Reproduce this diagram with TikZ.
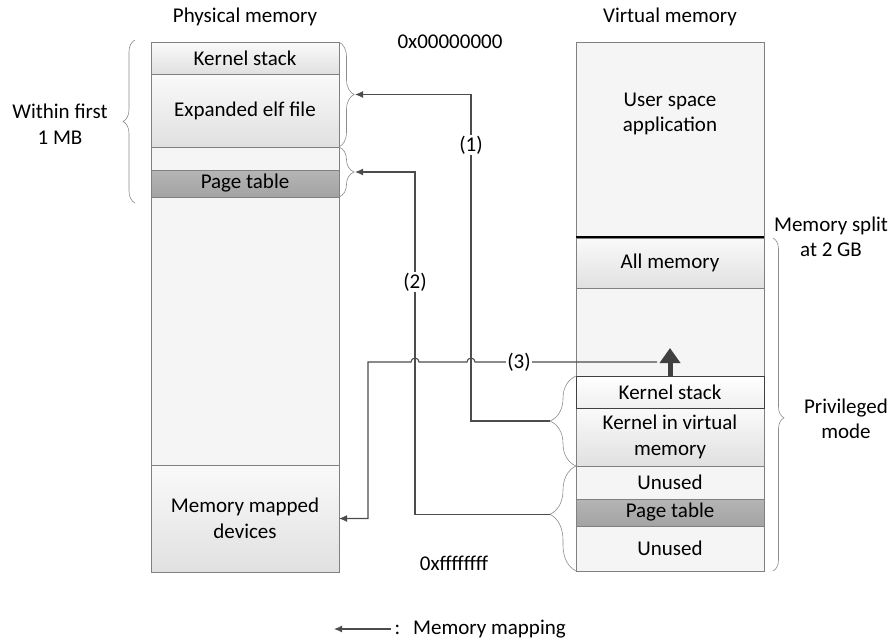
\documentclass[tikz,border=0pt]{standalone}
\usepackage{fontspec}
\setmainfont{Carlito}
\usetikzlibrary{calc}
\usetikzlibrary{arrows.meta}
\usetikzlibrary{decorations.pathreplacing}

\tikzset{
  mem/.style={draw=black!50, line width=0.8pt, minimum width=188pt, inner sep=0pt, outer sep=0pt, align=center},
  plain/.style={mem, fill=black!4},
  shaded/.style={mem, top color=black!2, bottom color=black!12},
  darkbox/.style={mem, top color=black!29, bottom color=black!36},
  kstack/.style={mem, draw=black!75, top color=white, bottom color=black!6},
  memmap/.style={draw=black!70, line width=1.1pt, -{Latex[length=8pt,width=7pt]}},
  fatarrow/.style={draw=black!75, line width=5pt, -{Triangle[length=15pt,width=20pt]}},
  membrace/.style={draw=black!45, line width=0.6pt, decorate},
  tag/.style={fill=white, inner sep=1pt},
}

\begin{document}
\begin{tikzpicture}[x=1pt, y=-1pt, font=\fontsize{21}{25.5}\selectfont]
  \useasboundingbox (0,0) rectangle (891,641);
  \newcommand{\membox}[6]
  {%
    \pgfmathsetmacro{\mbh}{#5-#4}%
    \pgfmathsetmacro{\mby}{(#4+#5)/2}%
    \node[#1, minimum height=\mbh pt] (#2) at (#3, \mby) {#6};%
  }%
  \membox{shaded}{pks}{245}{42}{74}{Kernel stack}
  \membox{shaded}{pelf}{245}{74}{147}{Expanded elf file}
  \membox{plain}{pgap}{245}{147}{170}{}
  \membox{darkbox}{ppt}{245}{170}{197}{Page table}
  \membox{plain}{pfree}{245}{197}{465}{}
  \membox{shaded}{pmmd}{245}{465}{572}{Memory mapped\\devices}
  \membox{plain}{vuser}{670}{42}{237}{}
  \node[align=center] (vusertxt) at (670,114) {User space\\application};
  \draw[black, line width=1.2pt] (vuser.south west) -- (vuser.south east);
  \membox{shaded}{vall}{670}{238}{288}{All memory}
  \membox{plain}{vgap}{670}{288}{376}{}
  \membox{shaded}{vkern}{670}{408}{466}{Kernel in virtual\\memory}
  \membox{plain}{vun1}{670}{466}{499}{Unused}
  \membox{darkbox}{vpt}{670}{499}{526}{Page table}
  \membox{plain}{vun2}{670}{526}{571}{Unused}
  \membox{kstack}{vks}{670}{376}{408}{Kernel stack}

  \node (phys) at (245,17) {Physical memory};
  \node (virt) at (670,17) {Virtual memory};
  \node (lo) at (450,42) {0x00000000};
  \node (hi) at (454,563) {0xffffffff};
  \node[align=center] (mb) at (60,124) {Within first\\1 MB};
  \node[align=center] (split) at (831,237) {Memory split\\at 2 GB};
  \node[align=center] (priv) at (846,419) {Privileged\\mode};

  \draw[membrace, decoration={brace, amplitude=12pt}] (135,203) -- (135,40);
  \draw[membrace, decoration={brace, amplitude=15pt}] (pks.north east) -- (pelf.south east);
  \draw[membrace, decoration={brace, amplitude=15pt}] (pgap.north east) -- (ppt.south east);
  \draw[membrace, decoration={brace, amplitude=26pt}] (vkern.south west) -- (vks.north west);
  \draw[membrace, decoration={brace, amplitude=26pt, aspect=0.54}] (vun2.south west) -- (vun1.north west);
  \draw[membrace, decoration={brace, amplitude=11pt, aspect=0.54}] ($(vall.north east)+(9,0)$) -- ($(vun2.south east)+(9,0)$);

  \coordinate (elftip) at ($(pks.north east)!0.5!(pelf.south east)+(16,0)$);
  \coordinate (pttip)  at ($(pgap.north east)!0.5!(ppt.south east)+(16,0)$);
  \coordinate (kvtip)  at ($(vkern.south west)!0.5!(vks.north west)+(-26,0)$);
  \coordinate (ptvtip) at ($(vun2.south west)!0.54!(vun1.north west)+(-26,0)$);
  \coordinate (c1) at (471,0);
  \coordinate (c2) at (415,0);
  \coordinate (c3) at (368,0);

  \draw[fatarrow] (vks.north) -- ++(0,-28) coordinate (uptip);
  \coordinate (src3) at ($(uptip)+(-13,14)$);

  \draw[memmap] (kvtip) -- (kvtip -| c1) -- (c1 |- elftip) -- (elftip);
  \draw[memmap] (ptvtip) -- (ptvtip -| c2) -- (c2 |- pttip) -- (pttip);
  \draw[memmap] (src3) -- ($(src3 -| c1)+(4,0)$) arc[start angle=0, end angle=180, radius=4pt]
    -- ($(src3 -| c2)+(4,0)$) arc[start angle=0, end angle=180, radius=4pt]
    -- (c3 |- src3) -- (c3 |- pmmd) -- (pmmd.east);
  \node[tag] (n1) at (471,145) {(1)};
  \node[tag] (n2) at (415,282) {(2)};
  \node[tag] (n3) at (519,362) {(3)};

  \node[anchor=west] (legtxt) at (391,629) {:\hspace{13pt}Memory mapping};
  \coordinate (legend) at (334,629);
  \draw[memmap] (legtxt.west) -- (legend);
\end{tikzpicture}
\end{document}
